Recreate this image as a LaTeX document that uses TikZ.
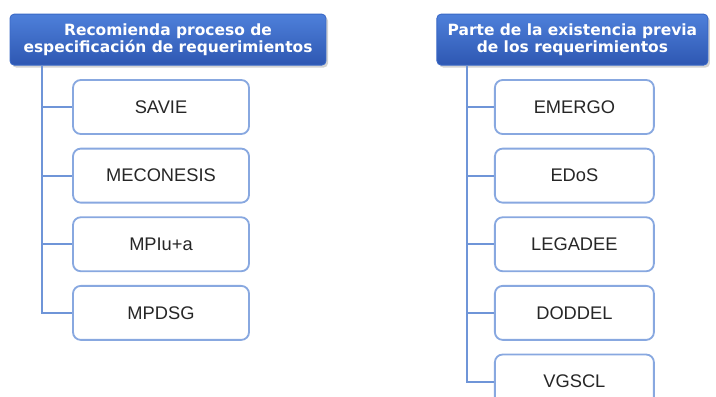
\documentclass[tikz,border=0pt]{standalone}
\usepackage{fontspec}
\setmainfont{Liberation Sans}
\newfontfamily\hdrfont{DejaVu Sans}
\usetikzlibrary{positioning, shadows}
\definecolor{cblue}{HTML}{3A68C6}
\definecolor{cbluetop}{HTML}{4E80DA}
\definecolor{cbluebot}{HTML}{2E57B2}
\definecolor{cedge}{HTML}{88A8E0}
\definecolor{cline}{HTML}{6F95D8}
\definecolor{ctext}{HTML}{262626}
\tikzset{
  every picture/.style={line width=1.1pt},
  header/.style={rounded corners=3pt, top color=cbluetop, bottom color=cbluebot, draw=cblue, line width=0.6pt,
    text=white, align=center, font=\hdrfont\bfseries\fontsize{11}{10.6}\selectfont,
    minimum height=1.275cm, inner sep=2pt,
    drop shadow={shadow xshift=0.05cm, shadow yshift=-0.06cm, opacity=0.35}},
  item/.style={draw=cedge, fill=white, rounded corners=5.5pt, line width=1.3pt, minimum height=1.35cm,
    text=ctext, font=\fontsize{13}{15}\selectfont},
  link/.style={draw=cline, line width=1.4pt},
}

\begin{document}
\begin{tikzpicture}
  \useasboundingbox (0,0) rectangle (17.9,-9.9);
  \clip (0,0) rectangle (17.9,-9.9);

  % left column
  \node[header, minimum width=7.9cm] (hdrL) at (4.2,-0.99) {Recomienda proceso de\\especificación de requerimientos};
  \node[item, minimum width=4.4cm] (savie) at (4.025,-2.675) {SAVIE};
  \node[item, minimum width=4.4cm, below=0.32cm of savie] (meconesis) {MECONESIS};
  \node[item, minimum width=4.4cm, below=0.32cm of meconesis] (mpiua) {MPIu+a};
  \node[item, minimum width=4.4cm, below=0.32cm of mpiua] (mpdsg) {MPDSG};
  \coordinate (tL) at ([xshift=0.82cm]hdrL.south west);
  \foreach \n in {savie, meconesis, mpiua, mpdsg} \draw[link] (tL) |- (\n.west);

  % right column
  \node[header, minimum width=6.775cm] (hdrR) at (14.31,-0.99) {Parte de la existencia previa\\de los requerimientos};
  \node[item, minimum width=3.975cm] (emergo) at (14.36,-2.675) {EMERGO};
  \node[item, minimum width=3.975cm, below=0.32cm of emergo] (edos) {EDoS};
  \node[item, minimum width=3.975cm, below=0.32cm of edos] (legadee) {LEGADEE};
  \node[item, minimum width=3.975cm, below=0.32cm of legadee] (doddel) {DODDEL};
  \node[item, minimum width=3.975cm, below=0.32cm of doddel] (vgscl) {VGSCL};
  \coordinate (tR) at ([xshift=0.755cm]hdrR.south west);
  \foreach \n in {emergo, edos, legadee, doddel, vgscl} \draw[link] (tR) |- (\n.west);
\end{tikzpicture}
\end{document}
